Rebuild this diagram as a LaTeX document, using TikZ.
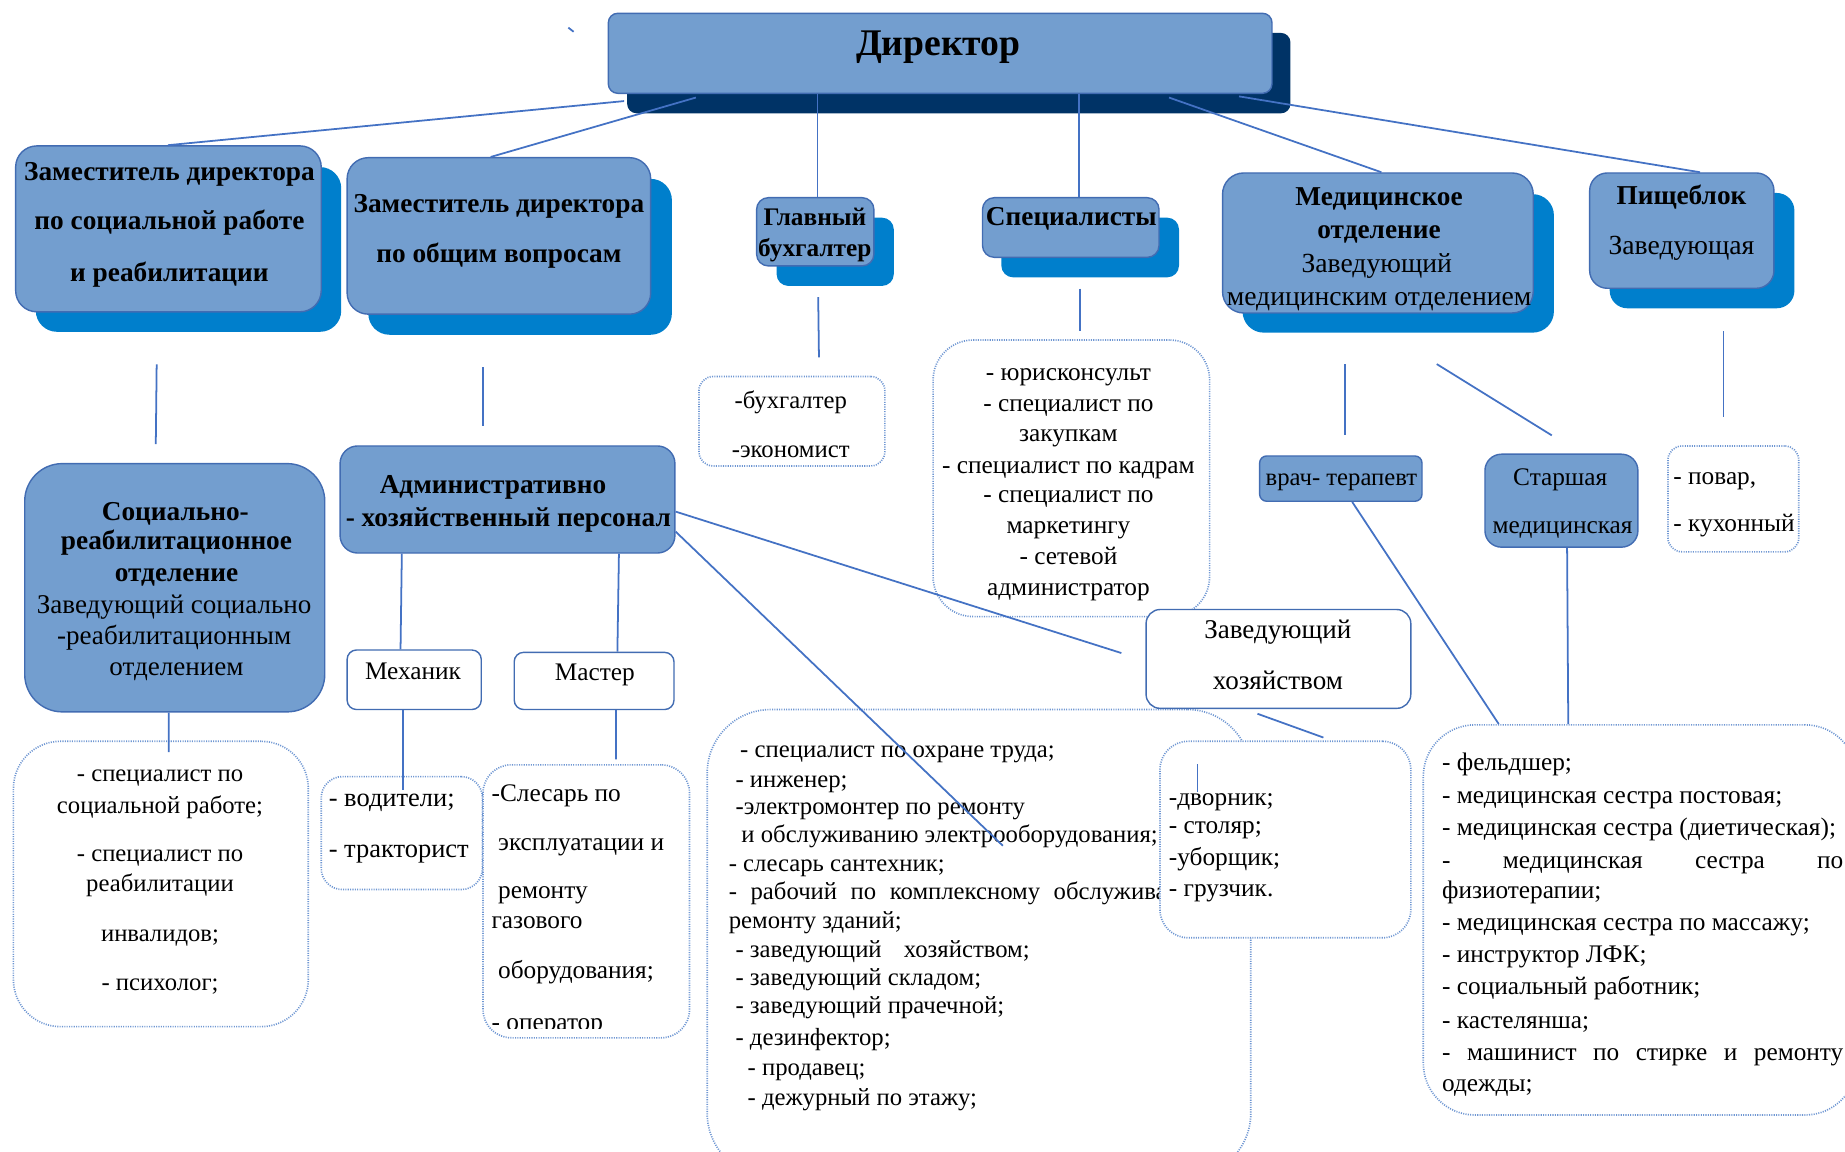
\documentclass[tikz,border=0pt]{standalone}
\usepackage{fontspec}
\setmainfont{Liberation Serif}
\usetikzlibrary{fit,calc}
\definecolor{boxfill}{RGB}{115,158,207}
\definecolor{boxline}{RGB}{66,108,178}
\definecolor{shadowblue}{RGB}{0,127,204}
\definecolor{navyshadow}{RGB}{0,51,102}
\definecolor{linkblue}{RGB}{68,114,196}
\definecolor{dotblue}{RGB}{110,150,210}
\newcommand\Cput[5]{\node[#1] (#2) at (#3,#4) {#5};}
\newcommand\Lput[5]{\node[#1,anchor=west] (#2) at (#3,#4) {#5};}
\begin{document}
\begin{tikzpicture}[x=0.5pt,y=-0.5pt,
  fillbox/.style={draw=boxline, fill=boxfill, line width=0.6pt, inner sep=0pt, rounded corners=#1},
  fillbox/.default=4pt,
  bluesh/.style={fill=shadowblue, inner sep=0pt, rounded corners=#1},
  bluesh/.default=4pt,
  navysh/.style={fill=navyshadow, inner sep=0pt, rounded corners=4pt},
  whitebox/.style={draw=boxline, fill=white, line width=0.6pt, inner sep=0pt, rounded corners=#1},
  whitebox/.default=4pt,
  dotbox/.style={draw=dotblue, fill=white, line width=0.7pt, dash pattern=on 0.45pt off 0.55pt, inner sep=0pt, rounded corners=#1},
  dotbox/.default=8pt,
  link/.style={draw=linkblue, line width=0.75pt},
  txt/.style={inner sep=0pt, text height=0.9em, text depth=0.16em},
  tdir/.style={txt, font=\fontsize{16}{19}\selectfont\bfseries},
  hb/.style={txt, font=\fontsize{11.6}{14}\selectfont\bfseries},
  hbs/.style={txt, font=\fontsize{10.75}{13}\selectfont\bfseries},
  hr/.style={txt, font=\fontsize{11.75}{14}\selectfont},
  hrm/.style={txt, font=\fontsize{11.5}{14}\selectfont},
  ls/.style={txt, font=\fontsize{10.75}{13}\selectfont},
  lss/.style={txt, font=\fontsize{10.5}{13}\selectfont},
  lsv/.style={txt, font=\fontsize{11.25}{13}\selectfont}]
\useasboundingbox (0,0) rectangle (1568,979);
\clip (0,0) rectangle (1568,979);

% ---------- shadows ----------
\node[navysh, fit={(533,28) (1096.7,96.3)}] (dirsh) {};
\node[bluesh=9pt, fit={(30.4,142) (290,282)}] (b1sh) {};
\node[bluesh=9pt, fit={(313,152) (571,284.5)}] (b2sh) {};
\node[bluesh=5pt, fit={(660,185) (759.6,243)}] (gbsh) {};
\node[bluesh=5pt, fit={(851,185) (1002,235.7)}] (spsh) {};
\node[bluesh=9pt, fit={(1056,165) (1320.6,282.7)}] (medsh) {};
\node[bluesh=7.5pt, fit={(1368,164) (1525,262)}] (pbsh) {};

% ---------- filled boxes ----------
\node[fillbox=4pt, fit={(517,11.3) (1081,79.3)}] (dir) {};
\node[fillbox=9pt, fit={(13.3,124) (273,265)}] (b1) {};
\node[fillbox=9pt, fit={(295,134) (553,267)}] (b2) {};
\node[fillbox=5pt, fit={(643,168) (742.7,226)}] (gb) {};
\node[fillbox=5pt, fit={(835,168) (985,218.7)}] (sp) {};
\node[fillbox=9pt, fit={(1039,147) (1303,266)}] (med) {};
\node[fillbox=7.5pt, fit={(1351,147) (1507.6,245)}] (pb) {};
\node[fillbox=16pt, fit={(21,394) (276,605)}] (sr) {};
\node[fillbox=7.5pt, fit={(289,379) (573.6,470)}] (ahp) {};
\node[fillbox=3pt, fit={(1070.5,387.5) (1208.5,426)}] (vt) {};
\node[fillbox=7pt, fit={(1262,386) (1392,465)}] (sm) {};

% ---------- white / dotted boxes ----------
\node[dotbox=6pt, fit={(594,320) (752,396)}] (bl) {};
\node[dotbox=17pt, fit={(793,289) (1028,524)}] (sl) {};
\node[dotbox=6pt, fit={(1417.5,379) (1528.7,469)}] (pv) {};
\node[whitebox=4pt, fit={(295,552.4) (409,603)}] (mech) {};
\node[whitebox=4pt, fit={(437,554.4) (572.8,603)}] (mast) {};
\node[dotbox=20pt, fit={(11.4,630) (262,872.5)}] (socl) {};
\node[dotbox=9pt, fit={(273,660) (410,756)}] (vod) {};
\node[dotbox=12pt, fit={(410.5,650) (586,882)}] (sl2) {};
\node[dotbox=27pt, fit={(601,603) (1063,1000)}] (bg) {};
\node[dotbox=22pt, fit={(1209.6,616) (1578,947.6)}] (ml) {};
\node[whitebox=6pt, fit={(974,518) (1199,602)}] (zx) {};

% ---------- texts ----------
\Cput{tdir}{dirT}{797.5}{40}{Директор}
\Cput{hb}{b1a}{144}{146}{Заместитель директора}
\Cput{hb}{b1b}{144}{188}{по социальной работе}
\Cput{hb}{b1c}{144}{232}{и реабилитации}
\Cput{hb}{b2a}{424}{173}{Заместитель директора}
\Cput{hb}{b2b}{424}{216}{по общим вопросам}
\Cput{hbs}{gba}{692.5}{184}{Главный}
\Cput{hbs}{gbb}{692.5}{211}{бухгалтер}
\Cput{hb}{spa}{910.5}{184}{Специалисты}
\Cput{hb}{meda}{1172}{167}{Медицинское}
\Cput{hb}{medb}{1172}{195}{отделение}
\Cput{hr}{medc}{1170}{224}{Заведующий}
\Cput{hr}{medd}{1172}{252}{медицинским отделением}
\Cput{hb}{pba}{1429}{166}{Пищеблок}
\Cput{hr}{pbb}{1429}{209}{Заведующая}

\Cput{hb}{sra}{149}{435}{Социально-}
\Cput{hb}{srb}{150}{460}{реабилитационное}
\Cput{hb}{src}{150}{487}{отделение}
\Cput{hrm}{srd}{148}{514}{Заведующий социально}
\Cput{hrm}{sre}{148}{540}{-реабилитационным}
\Cput{hrm}{srf}{150}{567}{отделением}
\Cput{hb}{ahpa}{419}{412}{Административно}
\Cput{hb}{ahpb}{432}{440}{- хозяйственный персонал}

\Cput{lss}{bla}{672}{340}{-бухгалтер}
\Cput{lss}{blb}{672}{381}{-экономист}
\Cput{ls}{sla}{908}{316}{- юрисконсульт}
\Cput{ls}{slb}{908}{342}{- специалист по}
\Cput{ls}{slc}{908}{368}{закупкам}
\Cput{ls}{sld}{908}{395}{- специалист по кадрам}
\Cput{ls}{sle}{908}{420}{- специалист по}
\Cput{ls}{slf}{908}{446}{маркетингу}
\Cput{ls}{slg}{908}{472.6}{- сетевой}
\Cput{ls}{slh}{908}{498.6}{администратор}

\Cput{lss}{vta}{1140}{405}{врач- терапевт}
\Cput{ls}{sma}{1326}{405}{Старшая}
\Cput{ls}{smb}{1328}{446}{медицинская}
\Lput{ls}{pva}{1421.8}{404}{- повар,}
\Lput{ls}{pvb}{1421.8}{444}{- кухонный}

\Cput{ls}{mecha}{351}{570}{Механик}
\Cput{ls}{masta}{505.6}{571}{Мастер}
\Cput{hrm}{zxa}{1086}{535.5}{Заведующий}
\Cput{hrm}{zxb}{1086}{579}{хозяйством}

\Cput{lss}{soca}{136}{657}{- специалист по}
\Cput{lss}{socb}{136}{684}{социальной работе;}
\Cput{lss}{socc}{136}{725}{- специалист по}
\Cput{lss}{socd}{136}{750.5}{реабилитации}
\Cput{lss}{soce}{136}{793}{инвалидов;}
\Cput{lss}{socf}{136}{834}{- психолог;}

\Lput{lsv}{voda}{279}{678}{- водители;}
\Lput{lsv}{vodb}{279}{721}{- тракторист}

\Lput{ls}{slsa}{417.4}{674}{-Слесарь по}
\Lput{ls}{slsb}{423}{715}{эксплуатации и}
\Lput{ls}{slsc}{423}{756}{ремонту}
\Lput{ls}{slsd}{417.4}{782}{газового}
\Lput{ls}{slse}{423}{824}{оборудования;}
\begin{scope}
\clip (400,640) rectangle (600,874);
\Lput{ls}{slsf}{417.4}{868}{- оператор}
\end{scope}

\Lput{lss}{bga}{628.7}{636}{- специалист по охране труда;}
\Lput{lss}{bgb}{624.7}{661.5}{- инженер;}
\Lput{lss}{bgc}{624.7}{685}{-электромонтер по ремонту}
\Lput{lss}{bgd}{629.7}{709}{и обслуживанию электрооборудования;}
\Lput{lss}{bge}{619}{733}{- слесарь сантехник;}
\Lput{lss}{bgf}{619}{757}{\makebox[186pt][s]{- рабочий по комплексному обслужива}}
\Lput{lss}{bgg}{619}{781.3}{ремонту зданий;}
\Lput{lss}{bgh}{624.7}{806}{- заведующий\hspace{0.9em}хозяйством;}
\Lput{lss}{bgi}{624.7}{830}{- заведующий складом;}
\Lput{lss}{bgj}{624.7}{854}{- заведующий прачечной;}
\Lput{lss}{bgk}{624.7}{881}{- дезинфектор;}
\Lput{lss}{bgl}{635}{906.5}{- продавец;}
\Lput{lss}{bgm}{635}{932}{- дежурный по этажу;}

\Lput{ls}{mla}{1225.2}{647.3}{- фельдшер;}
\Lput{ls}{mlb}{1225.2}{675.6}{- медицинская сестра постовая;}
\Lput{ls}{mlc}{1225.2}{702.5}{- медицинская сестра (диетическая);}
\Lput{ls}{mld}{1225.2}{730.3}{\makebox[170.5pt][s]{- медицинская сестра по}}
\Lput{ls}{mle}{1225.2}{755.8}{физиотерапии;}
\Lput{ls}{mlf}{1225.2}{783.3}{- медицинская сестра по массажу;}
\Lput{ls}{mlg}{1225.2}{810.7}{- инструктор ЛФК;}
\Lput{ls}{mlh}{1225.2}{838}{- социальный работник;}
\Lput{ls}{mli}{1225.2}{866.3}{- кастелянша;}
\Lput{ls}{mlj}{1225.2}{893.8}{\makebox[170.5pt][s]{- машинист по стирке и ремонту}}
\Lput{ls}{mlk}{1225.2}{920.6}{одежды;}

% dvornik box on top of big list
\node[dotbox=12pt, fit={(985.8,630) (1199,797)}] (dv) {};
\Lput{ls}{dva}{993}{677}{-дворник;}
\Lput{ls}{dvb}{993}{701}{- столяр;}
\Lput{ls}{dvc}{993}{728}{-уборщик;}
\Lput{ls}{dvd}{993}{754.7}{- грузчик.}

% ---------- connectors ----------
\draw[link] ($(dir.south west)+(14,6)$) -- ($(b1.north)+(-0.5,0)$);
\draw[link] ($(dir.south west)+(75,3)$) -- ($(b2.north)+(-7,0)$);
\coordinate (c3) at ($(gb.north)+(2,0)$);
\draw[link] (dir.south -| c3) -- (c3);
\coordinate (c4) at ($(sp.north)+(7,0)$);
\draw[link] (dir.south -| c4) -- (c4);
\draw[link] ($(dir.south)+(194.5,3)$) -- ($(med.north)+(3,0)$);
\draw[link] ($(dir.south)+(254,2)$) -- ($(pb.north)+(15.5,0)$);

\draw[link] ($(b1.south)+(-10,44)$) -- ($(sr.north)+(-16.1,-16)$);
\draw[link] ($(b2.south)+(-13.5,44.6)$) -- ($(ahp.north)+(-20.8,-16)$);
\draw[link] ($(gb.south)+(2.5,26)$) -- ($(bl.north)+(23,-15.5)$);
\draw[link] ($(sp.south)+(8,26)$) -- ($(sl.north)+(7.5,-7)$);
\draw[link] ($(med.south)+(-28,43)$) -- ($(vt.north)+(3.5,-17)$);
\draw[link] ($(med.south)+(50,42.8)$) -- ($(sm.north)+(-8.2,-15.4)$);
\draw[link] ($(pb.south)+(35.5,36)$) -- ($(pv.north)+(-8.3,-24)$);

\draw[link] ($(ahp.east)+(0,10.3)$) -- ($(zx.west)+(-20.4,-5)$);
\coordinate (a2end) at ($(bg.north west)+(252,116.5)$);
\draw[link] ($(ahp.east)+(0,27.3)$) -- (a2end);
\draw[link] ($(ahp.south)+(-89.8,0)$) -- ($(mech.north)+(-11.6,0)$);
\draw[link] ($(ahp.south)+(94.7,0)$) -- ($(mast.north)+(19.8,0)$);
\draw[link] ($(mech.south)+(-9.4,0)$) -- ($(vod.north)+(1.1,12)$);
\draw[link] ($(mast.south)+(18.7,0)$) -- ($(sl2.north)+(25.35,-4)$);
\draw[link] ($(sr.south)+(-5.1,0)$) -- ($(socl.north)+(6.7,10)$);
\draw[link] ($(zx.south)+(-17.8,4)$) -- ($(dv.north)+(32.3,-2.5)$);
\draw[link] ($(dv.north west)+(32.5,20)$) -- ($(dv.north west)+(32.5,44)$);
\draw[link] ($(vt.south)+(9.7,0)$) -- ($(ml.north west)+(64.8,0)$);
\draw[link] ($(sm.south)+(4.8,0)$) -- ($(ml.north west)+(123.9,0)$);
\draw[link] (483,23.5) -- (487.5,27);
\end{tikzpicture}
\end{document}
